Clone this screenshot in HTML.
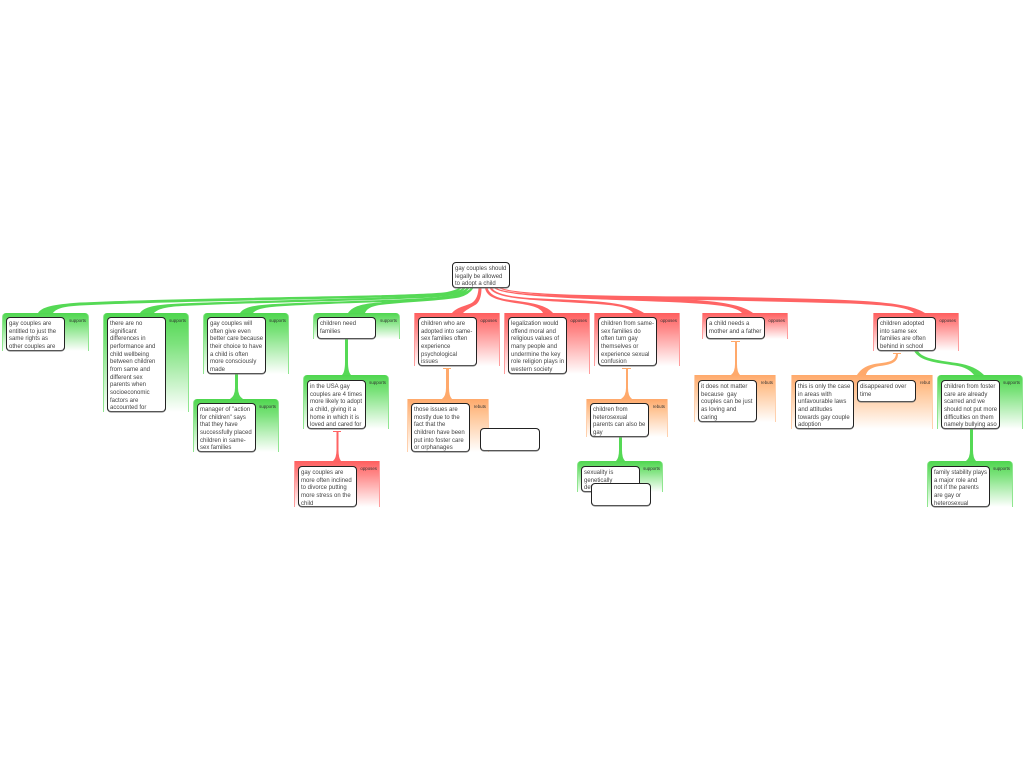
<!DOCTYPE html>
<html><head><meta charset="utf-8"><title>Argument map</title>
<style>
html,body{margin:0;padding:0;background:#fff}
body{position:relative;width:1024px;height:768px;overflow:hidden;font-family:"Liberation Sans",sans-serif}
.g,.b{position:absolute;box-sizing:border-box}
.g{border-left:1px solid;border-right:1px solid}
.s{background:linear-gradient(#4fd64f 0,#7be27b 30%,#fff 100%);border-color:#8fe68f;border-radius:4px 4px 0 0}
.o{background:linear-gradient(#ff5f5f 0,#ff8a8a 30%,#fff 100%);border-color:#ff9c9c}
.r{background:linear-gradient(#ffa96b 0,#ffc596 30%,#fff 100%);border-color:#ffd0ad}
.g i{position:absolute;top:5px;right:2px;font:normal 4.4px/5px "Liberation Sans",sans-serif;color:#333}
.b{background:#fff;border:1px solid #222;border-bottom-color:#555;border-radius:4px;box-shadow:0 .5px 0 #777;font-size:6px;line-height:7.67px;color:#444;padding:3px 0 0 2px;white-space:nowrap;overflow:visible}
svg{position:absolute;left:0;top:0}
</style></head><body>
<svg width="1024" height="768" viewBox="0 0 1024 768" fill="none">
<g fill="#55d955">
<path d="M38 313C42 307 52 304.500 80 302.500C200 297 420 296.500 447 292Q456 290 459 288H461.500Q457 293 447 294.500C420 298.500 200 300 80 305.500C62 306.500 56 309 53 313Z"/>
<path d="M140 313C144 307 155 304.500 180 303.500C280 299.500 425 298 450 293.500Q459 291 463 288H465.500Q461 294 450 295.800C425 300 280 301.500 182 306C165 307 158 309 154 313Z"/>
<path d="M240 313C244 307 255 305 275 304C340 300.500 430 300 453 295Q462 292 467 288H469.500Q465 294 454 297C430 302 340 302.500 277 306.500C265 307.500 256 309 253 313Z"/>
<path d="M348 313C353 306 362 304 378 302.500C410 299 440 299 458 294.500Q467 292 471 288H473.500Q469 295 459 297.500C440 301 410 301.500 380 305C370 306.500 367 309 365 313Z"/>
</g>
<g fill="#ff6464">
<path d="M452 313C458 306 468 306 473 302Q478 298 478.500 288H481.500Q481.500 300 476 304.500C470 308 466 310 463 313Z"/>
<path d="M543 313C540 307 530 305 515 303C498 300 487 298 485 288H487.500Q490 296 504 299C522 302 545 303 553 313Z"/>
<path d="M633 313C628 306 610 304.500 580 303C530 300 495 299 489.500 288H492Q497 296 530 298C580 300.500 625 300 644 313Z"/>
<path d="M742 313C736 306 715 304.500 680 302.500C600 299 505 298 494 288H496.500Q507 295 600 296.500C680 298.500 735 299 753 313Z"/>
<path d="M914 313C906 306 880 305 850 303.500C700 299 515 299 499 288H501.500Q518 296 700 296.500C850 299 905 300 925 313Z"/>
</g>
<path fill="#55d955" d="M235 374H238V388Q238 396 243 399H230Q235 396 235 388Z"/>
<path fill="#55d955" d="M345 339H348V362Q348 372 351 375H342Q345 372 345 362Z"/>
<path fill="#ff6464" d="M333 431H341V432H338.500V450Q338.500 458 341 461H333Q336.500 458 336.500 450V432H333Z"/>
<path fill="#ffa96b" d="M443 368H451V369H449V388Q449 396 452 399H442Q446 396 446 388V369H443Z"/>
<path fill="#ffa96b" d="M622 368H631V369H628V388Q628 396 632 399H621Q626 396 626 388V369H622Z"/>
<path fill="#55d955" d="M619 437H622V450Q622 458 625 461H616Q619 458 619 450Z"/>
<path fill="#ffa96b" d="M731 341H740V342H737V364Q737 372 740 375H731Q735 372 735 364V342H731Z"/>
<path fill="#55d955" d="M970 429H973V450Q973 458 976 461H966Q970 458 970 450Z"/>
<path fill="#ffa96b" d="M857 375C861 369 866 365 878 363.500C890 362 895 361 896 354H893V353H901V354H898C898 362 892 364.500 880 366C870 367.500 867 371 866 375Z"/>
<path fill="#55d955" d="M914 351H918C922 358 935 360 957 363C970 365 978 369 984 375H974C970 370 965 367 955 365.500C935 362.500 920 361 914 351Z"/>
</svg>

<div class="g s" style="left:2px;top:313px;width:87px;height:38px"><i>supports</i></div>
<div class="b" style="left:6px;top:317px;width:59px;height:34px">gay couples are<br>entitled to just the<br>same rights as<br>other couples are</div>

<div class="g s" style="left:103px;top:313px;width:86px;height:99px"><i>supports</i></div>
<div class="b" style="left:107px;top:317px;width:59px;height:95px">there are no<br>significant<br>differences in<br>performance and<br>child wellbeing<br>between children<br>from same and<br>different sex<br>parents when<br>socioeconomic<br>factors are<br>accounted for</div>

<div class="g s" style="left:203px;top:313px;width:86px;height:61px"><i>supports</i></div>
<div class="b" style="left:207px;top:317px;width:59px;height:57px">gay couples will<br>often give even<br>better care because<br>their choice to have<br>a child is often<br>more consciously<br>made</div>

<div class="g s" style="left:193px;top:399px;width:86px;height:53px"><i>supports</i></div>
<div class="b" style="left:197px;top:403px;width:59px;height:49px">manager of "action<br>for children" says<br>that they have<br>successfully placed<br>children in same-<br>sex families</div>

<div class="g s" style="left:313px;top:313px;width:87px;height:26px"><i>supports</i></div>
<div class="b" style="left:317px;top:317px;width:59px;height:22px">children need<br>families</div>

<div class="g s" style="left:303px;top:375px;width:86px;height:54px"><i>supports</i></div>
<div class="b" style="left:307px;top:380px;width:59px;height:49px">in the USA gay<br>couples are 4 times<br>more likely to adopt<br>a child, giving it a<br>home in which it is<br>loved and cared for</div>

<div class="g o" style="left:294px;top:461px;width:86px;height:46px"><i>opposes</i></div>
<div class="b" style="left:298px;top:466px;width:59px;height:41px">gay couples are<br>more often inclined<br>to divorce putting<br>more stress on the<br>child</div>

<div class="g o" style="left:414px;top:313px;width:86px;height:53px"><i>opposes</i></div>
<div class="b" style="left:418px;top:317px;width:59px;height:49px">children who are<br>adopted into same-<br>sex families often<br>experience<br>psychological<br>issues</div>

<div class="g r" style="left:407px;top:399px;width:82px;height:53px"><i>rebuts</i></div>
<div class="b" style="left:411px;top:403px;width:59px;height:49px">those issues are<br>mostly due to the<br>fact that the<br>children have been<br>put into foster care<br>or orphanages</div>
<div class="b" style="left:480px;top:428px;width:60px;height:23px"></div>

<div class="g o" style="left:504px;top:313px;width:86px;height:61px"><i>opposes</i></div>
<div class="b" style="left:508px;top:317px;width:59px;height:57px">legalization would<br>offend moral and<br>religious values of<br>many people and<br>undermine the key<br>role religion plays in<br>western society</div>

<div class="g o" style="left:594px;top:313px;width:86px;height:53px"><i>opposes</i></div>
<div class="b" style="left:598px;top:317px;width:59px;height:49px">children from same-<br>sex families do<br>often turn gay<br>themselves or<br>experience sexual<br>confusion</div>

<div class="g r" style="left:586px;top:399px;width:82px;height:38px"><i>rebuts</i></div>
<div class="b" style="left:590px;top:403px;width:59px;height:34px">children from<br>heterosexual<br>parents can also be<br>gay</div>

<div class="g s" style="left:577px;top:461px;width:86px;height:31px"><i>supports</i></div>
<div class="b" style="left:581px;top:466px;width:59px;height:26px">sexuality is<br>genetically<br>determined</div>
<div class="b" style="left:591px;top:483px;width:60px;height:23px"></div>

<div class="g o" style="left:702px;top:313px;width:86px;height:26px"><i>opposes</i></div>
<div class="b" style="left:706px;top:317px;width:59px;height:22px">a child needs a<br>mother and a father</div>

<div class="g r" style="left:694px;top:375px;width:82px;height:47px"><i>rebuts</i></div>
<div class="b" style="left:698px;top:380px;width:59px;height:42px">it does not matter<br>because &nbsp;gay<br>couples can be just<br>as loving and<br>caring</div>

<div class="g o" style="left:873px;top:313px;width:86px;height:38px"><i>opposes</i></div>
<div class="b" style="left:877px;top:317px;width:59px;height:34px">children adopted<br>into same sex<br>families are often<br>behind in school</div>

<div class="g r" style="left:791px;top:375px;width:142px;height:54px"><i>rebut</i></div>
<div class="b" style="left:795px;top:380px;width:59px;height:49px">this is only the case<br>in areas with<br>unfavourable laws<br>and attitudes<br>towards gay couple<br>adoption</div>
<div class="b" style="left:857px;top:380px;width:59px;height:22px">disappeared over<br>time</div>

<div class="g s" style="left:937px;top:375px;width:86px;height:54px"><i>supports</i></div>
<div class="b" style="left:941px;top:380px;width:59px;height:49px">children from foster<br>care are already<br>scarred and we<br>should not put more<br>difficulties on them<br>namely bullying aso</div>

<div class="g s" style="left:927px;top:461px;width:86px;height:46px"><i>supports</i></div>
<div class="b" style="left:931px;top:466px;width:59px;height:41px">family stability plays<br>a major role and<br>not if the parents<br>are gay or<br>heterosexual</div>

<div class="b" style="left:452px;top:262px;width:58px;height:26px;z-index:2">gay couples should<br>legally be allowed<br>to adopt a child</div>
</body></html>
